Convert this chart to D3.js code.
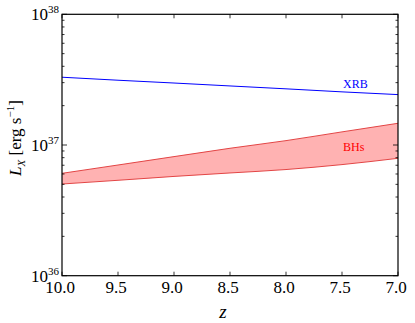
<!DOCTYPE html>
<html><head><meta charset="utf-8">
<script src="https://cdn.jsdelivr.net/npm/d3@7"></script>
<style>body{margin:0;background:#fff}svg{display:block}
svg text{font-family:"Liberation Serif","Times New Roman",Times,Tinos,"DejaVu Serif","Noto Serif",serif !important;}</style>
</head><body><svg id="c" width="415" height="323"></svg>
<script>
const zValues = [10, 9.5, 9, 8.5, 8, 7.5, 7];
const xrb = [3.3e37, 3.13e37, 2.98e37, 2.83e37, 2.69e37, 2.55e37, 2.43e37];
const bhUpper = [6.07e36, 7.03e36, 8.15e36, 9.44e36, 1.08e37, 1.26e37, 1.466e37];
const bhLower = [5.03e36, 5.37e36, 5.75e36, 6.11e36, 6.49e36, 7.08e36, 7.91e36];
const xTicks = [10, 9.5, 9, 8.5, 8, 7.5, 7];
const yMajor = [1e36, 1e37, 1e38];
const yExp = ["36", "37", "38"];

const svg = d3.select("#c");
const L = 62, R = 398, T = 14.3, B = 275.7;
const x = d3.scaleLinear().domain([10, 7]).range([L, R]);
const y = d3.scaleLog().domain([1e36, 1e38]).range([B, T]);

// band
const area = d3.area().x((d,i)=>x(zValues[i])).y0((d,i)=>y(bhLower[i])).y1((d,i)=>y(bhUpper[i])).curve(d3.curveMonotoneX);
svg.append("path").datum(zValues).attr("d", area).attr("fill", "#ff0000").attr("fill-opacity", 0.3);
const lineFrom = arr => d3.line().x((d,i)=>x(zValues[i])).y((d,i)=>y(arr[i])).curve(d3.curveMonotoneX);
svg.append("path").datum(zValues).attr("d", lineFrom(bhUpper)).attr("fill","none").attr("stroke","#e34545").attr("stroke-width",1);
svg.append("path").datum(zValues).attr("d", lineFrom(bhLower)).attr("fill","none").attr("stroke","#e34545").attr("stroke-width",1);
svg.append("path").datum(zValues).attr("d", lineFrom(xrb)).attr("fill","none").attr("stroke","#0000ff").attr("stroke-width",1);

// ticks
const g = svg.append("g").attr("stroke","#000").attr("stroke-width",0.8);
xTicks.forEach(t=>{
  g.append("line").attr("x1",x(t)).attr("x2",x(t)).attr("y1",B).attr("y2",B-4);
  g.append("line").attr("x1",x(t)).attr("x2",x(t)).attr("y1",T).attr("y2",T+4);
});
const minor = [];
[1e36,1e37].forEach(b=>{for(let k=2;k<=9;k++) minor.push(b*k);});
minor.forEach(v=>{
  g.append("line").attr("x1",L).attr("x2",L+2.5).attr("y1",y(v)).attr("y2",y(v));
  g.append("line").attr("x1",R).attr("x2",R-2.5).attr("y1",y(v)).attr("y2",y(v));
});
yMajor.forEach(v=>{
  g.append("line").attr("x1",L).attr("x2",L+5).attr("y1",y(v)).attr("y2",y(v));
  g.append("line").attr("x1",R).attr("x2",R-5).attr("y1",y(v)).attr("y2",y(v));
});
svg.append("rect").attr("x",L).attr("y",T).attr("width",R-L).attr("height",B-T).attr("fill","none").attr("stroke","#000").attr("stroke-width",1.2);

// tick labels
xTicks.forEach(t=>{
  svg.append("text").attr("x",x(t)-2).attr("y",B+17).attr("text-anchor","middle").attr("font-size",17).text(t.toFixed(1));
});
yMajor.forEach((v,i)=>{
  const tx = svg.append("text").attr("x",L-3).attr("y",y(v)+6).attr("text-anchor","end").attr("font-size",17);
  tx.append("tspan").text("10");
  tx.append("tspan").attr("font-size",11).attr("dy",-7).text(yExp[i]);
});

// axis labels
svg.append("text").attr("x",223).attr("y",318).attr("text-anchor","middle").attr("font-size",19).attr("font-style","italic").text("z");
const yl = svg.append("text").attr("transform","translate(21,138) rotate(-90)").attr("text-anchor","middle").attr("font-size",17);
yl.append("tspan").attr("font-style","italic").text("L");
yl.append("tspan").attr("font-style","italic").attr("font-size",11).attr("dy",4).text("X");
yl.append("tspan").attr("dy",-4).text(" [erg s");
yl.append("tspan").attr("font-size",11).attr("dy",-7).text("−1");
yl.append("tspan").attr("dy",7).text("]");

// series labels
svg.append("text").attr("x",343).attr("y",88).attr("font-size",12).attr("fill","#0000ff").text("XRB");
svg.append("text").attr("x",343).attr("y",151).attr("font-size",12).attr("fill","#ff0000").text("BHs");
</script></body></html>
